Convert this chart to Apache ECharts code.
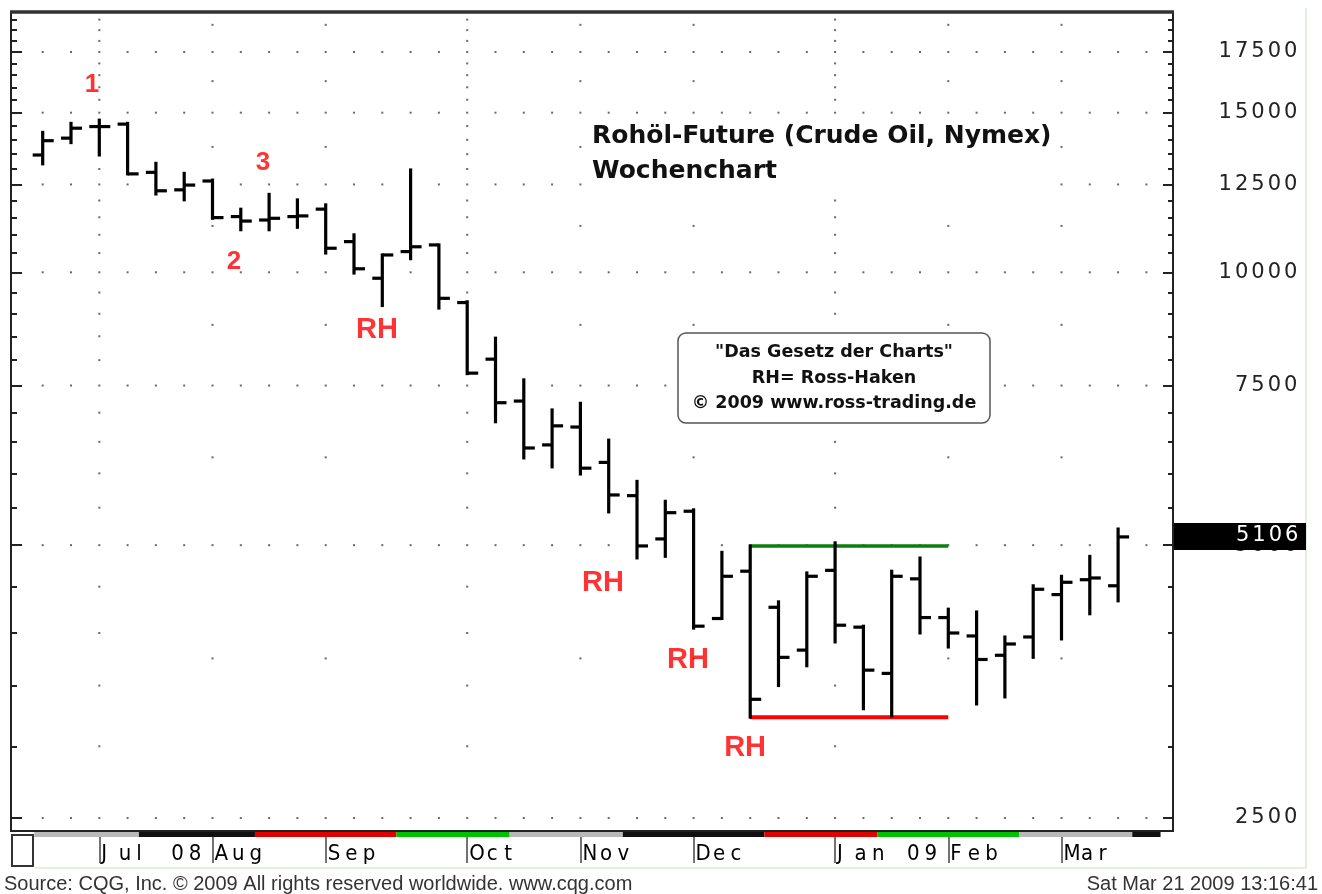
<!DOCTYPE html>
<html>
<head>
<meta charset="utf-8">
<script src="https://cdn.jsdelivr.net/npm/echarts@6/dist/echarts.min.js"></script>
<style>
html, body { margin: 0; padding: 0; background: #fff; }
#chart { width: 1322px; height: 894px; }
</style>
</head>
<body>
<div id="chart"></div>
<script>
// weekly bars Jun 2008 - Mar 2009 (price x 100)
const opens  = [13470, 14060, 14480, 14570, 12890, 12330, 12610, 11520, 11420, 11520, 11740, 10810, 9850, 10540, 10720, 9260, 8020, 7210, 6450, 6750, 6170, 5670, 5080, 5450, 4150, 4680, 4270, 3830, 4690, 4060, 3610, 4590, 4160, 3970, 3780, 3960, 4410, 4580, 4510]
const highs  = [14270, 14600, 14720, 14600, 13190, 12860, 12640, 11740, 12190, 12020, 11870, 11000, 10450, 12970, 10720, 9280, 8460, 7610, 7050, 7170, 6530, 5880, 5590, 5470, 4910, 4990, 4330, 4660, 5030, 4070, 4680, 4840, 4250, 4220, 3960, 4510, 4620, 4860, 5210]
const lows   = [13170, 13900, 13470, 12840, 12200, 12020, 11470, 11140, 11140, 11210, 10500, 9980, 9190, 10350, 9130, 7730, 6840, 6240, 6100, 5990, 5440, 4840, 4860, 4050, 4150, 3230, 3500, 3680, 3910, 3300, 3240, 4000, 3860, 3340, 3400, 3760, 3940, 4200, 4340]
const closes = [13970, 14420, 14480, 12840, 12300, 12480, 11490, 11390, 11470, 11540, 10630, 10090, 10450, 10670, 9360, 7740, 7180, 6400, 6770, 6080, 5680, 4990, 5430, 4070, 4620, 3380, 3760, 4620, 4080, 3640, 4620, 4160, 4000, 3740, 3890, 4470, 4550, 4600, 5106]
const lastPrice = 5106

// price scale
const majorLevels = [2500, 5000, 7500, 10000, 12500, 15000, 17500]
const minorLevels = [3000, 3500, 4000, 4500, 5500, 6000, 6500, 7000, 8000, 8500, 9000, 9500, 10500, 11000, 11500, 12000, 13000, 13500, 14000, 14500, 15500, 16000, 16500, 17000, 18000, 18500, 19000]
const midLevels = [3750, 6250, 8750, 11250, 13750, 16250, 18750]
const priceMin = 2419
const priceMax = 19371

// time scale (week index of first bar in month)
const monthWeeks = [2, 6, 10, 15, 19, 23, 28, 32, 36]
const monthNames = ['Jul 08', 'Aug', 'Sep', 'Oct', 'Nov', 'Dec', 'Jan 09', 'Feb', 'Mar']
const quarterWeeks = [2, 15, 28]
const weekMin = -1.12
const weekMax = 39.94
const lastWeek = 39

// contract strip under the chart
const stripFrom = [-0.3, 3.4, 7.5, 12.5, 16.5, 20.5, 25.5, 29.5, 34.5, 38.5]
const stripTo = [3.4, 7.5, 12.5, 16.5, 20.5, 25.5, 29.5, 34.5, 38.5, 39.5]
const stripColors = ['#b8b8b8', '#111111', '#e00000', '#00c000', '#b8b8b8', '#111111', '#e00000', '#00c000', '#b8b8b8', '#111111']

// trading range
const rangeFrom = 25
const rangeTo = 32
const rangeHigh = 4990
const rangeLow = 3230

// annotations [week, price, text]
const notes = [
  [1.74, 16100, '1'],
  [6.76, 10270, '2'],
  [7.78, 13200, '3'],
  [11.81, 8640, 'RH'],
  [19.8, 4540, 'RH'],
  [22.8, 3735, 'RH'],
  [24.82, 2990, 'RH']
]

const L = Math.log
const FONT = '"Liberation Sans", Arial, sans-serif'
const WIDE = '"DejaVu Sans", Verdana, sans-serif'
const NARROW = '"DejaVu Sans Condensed", "Liberation Sans Narrow", "Liberation Sans", sans-serif'

function cells (text, style) {
  return text.split('').map(ch => '{' + style + '|' + ch + '}').join('')
}

const gridDots = []
majorLevels.forEach(v => {
  for (let i = 0; i <= lastWeek; i++) gridDots.push([i, L(v)])
})
quarterWeeks.forEach(w => minorLevels.forEach(v => gridDots.push([w, L(v)])))
monthWeeks.filter(w => quarterWeeks.indexOf(w) < 0).forEach(w => midLevels.forEach(v => gridDots.push([w, L(v)])))

const barData = opens.map((o, i) => [i, L(o), L(highs[i]), L(lows[i]), L(closes[i])])

function renderBar (params, api) {
  const x = api.value(0)
  const o = api.coord([x, api.value(1)])
  const h = api.coord([x, api.value(2)])
  const l = api.coord([x, api.value(3)])
  const c = api.coord([x, api.value(4)])
  const style = { stroke: '#000', lineWidth: 3.2 }
  return {
    type: 'group',
    children: [
      { type: 'line', shape: { x1: h[0], y1: h[1] - 1.5, x2: l[0], y2: l[1] + 1.5 }, style },
      { type: 'line', shape: { x1: o[0] - 10, y1: o[1], x2: o[0], y2: o[1] }, style },
      { type: 'line', shape: { x1: c[0], y1: c[1], x2: c[0] + 11, y2: c[1] }, style }
    ]
  }
}

function renderStrip (params, api) {
  const a = api.coord([api.value(0), 1])
  const b = api.coord([api.value(1), 0])
  return {
    type: 'rect',
    shape: { x: a[0], y: a[1], width: b[0] - a[0], height: b[1] - a[1] },
    style: { fill: stripColors[params.dataIndex] }
  }
}

const yCommon = {
  type: 'value',
  gridIndex: 0,
  min: L(priceMin),
  max: L(priceMax),
  axisLine: { show: false, onZero: false },
  splitLine: { show: false }
}

const chart = echarts.init(document.getElementById('chart'))
chart.setOption({
  animation: false,
  backgroundColor: '#fff',
  title: {
    text: 'Rohöl-Future (Crude Oil, Nymex)\nWochenchart',
    left: 588,
    top: 116,
    padding: [3, 4],
    backgroundColor: '#fff',
    textStyle: { fontFamily: WIDE, fontSize: 25, fontWeight: 'bold', color: '#111', lineHeight: 35 }
  },
  grid: [
    { left: 11, right: 149, top: 12, bottom: 63, show: true, borderColor: '#222', borderWidth: 2, backgroundColor: '#fff' },
    { left: 11, right: 149, top: 832, height: 5 }
  ],
  xAxis: [
    { type: 'value', gridIndex: 0, min: weekMin, max: weekMax, show: false },
    {
      type: 'value',
      gridIndex: 1,
      min: weekMin,
      max: weekMax,
      axisLine: { show: false, onZero: false },
      splitLine: { show: false },
      axisTick: { customValues: monthWeeks, length: 26, lineStyle: { color: '#444', width: 1.5 } },
      axisLabel: {
        customValues: monthWeeks,
        hideOverlap: false,
        align: 'left',
        margin: 6,
        padding: [0, 0, 0, 2],
        formatter: v => cells(monthNames[monthWeeks.indexOf(v)], 'm'),
        rich: { m: { width: 17.5, align: 'left', fontSize: 22, fontFamily: NARROW, color: '#000' } }
      }
    }
  ],
  yAxis: [
    Object.assign({}, yCommon, {
      position: 'right',
      axisTick: { inside: true, length: 10, customValues: majorLevels.map(L), lineStyle: { color: '#222', width: 2 } },
      axisLabel: {
        customValues: majorLevels.map(L),
        margin: 126,
        align: 'right',
        formatter: v => cells(String(Math.round(Math.exp(v))), 'd'),
        rich: { d: { width: 16.4, align: 'center', fontSize: 21, fontFamily: WIDE, color: '#222' } }
      }
    }),
    Object.assign({}, yCommon, {
      position: 'right',
      axisTick: { inside: true, length: 5, customValues: minorLevels.map(L), lineStyle: { color: '#222', width: 2 } },
      axisLabel: { show: false }
    }),
    Object.assign({}, yCommon, {
      position: 'left',
      axisTick: { inside: true, length: 11, customValues: majorLevels.map(L), lineStyle: { color: '#222', width: 2 } },
      axisLabel: { show: false }
    }),
    Object.assign({}, yCommon, {
      position: 'left',
      axisTick: { inside: true, length: 6, customValues: minorLevels.map(L), lineStyle: { color: '#222', width: 2 } },
      axisLabel: { show: false }
    }),
    { type: 'value', gridIndex: 1, min: 0, max: 1, show: false }
  ],
  series: [
    {
      name: 'grid dots',
      type: 'scatter',
      xAxisIndex: 0,
      yAxisIndex: 0,
      symbol: 'rect',
      symbolSize: 2,
      itemStyle: { color: '#444' },
      silent: true,
      z: 1,
      data: gridDots
    },
    {
      name: 'range high',
      type: 'line',
      xAxisIndex: 0,
      yAxisIndex: 0,
      symbol: 'none',
      lineStyle: { color: '#0a800a', width: 3.5 },
      z: 3,
      data: [[rangeFrom, L(rangeHigh)], [rangeTo, L(rangeHigh)]]
    },
    {
      name: 'range low',
      type: 'line',
      xAxisIndex: 0,
      yAxisIndex: 0,
      symbol: 'none',
      lineStyle: { color: '#ff0000', width: 4 },
      z: 3,
      data: [[rangeFrom, L(rangeLow)], [rangeTo, L(rangeLow)]]
    },
    {
      name: 'crude oil',
      type: 'custom',
      xAxisIndex: 0,
      yAxisIndex: 0,
      renderItem: renderBar,
      encode: { x: 0, y: [1, 2, 3, 4] },
      z: 4,
      data: barData
    },
    {
      name: 'notes',
      type: 'scatter',
      xAxisIndex: 0,
      yAxisIndex: 0,
      symbolSize: 0,
      z: 5,
      label: {
        show: true,
        position: 'inside',
        formatter: p => p.data.text,
        color: '#ff0000',
        fontFamily: FONT,
        fontWeight: 'bold'
      },
      data: notes.map(n => ({
        value: [n[0], L(n[1])],
        text: n[2],
        label: { fontSize: n[2] === 'RH' ? 29 : 26 }
      }))
    },
    {
      name: 'strip',
      type: 'custom',
      xAxisIndex: 1,
      yAxisIndex: 4,
      renderItem: renderStrip,
      encode: { x: [0, 1] },
      data: stripFrom.map((s, i) => [s, stripTo[i]])
    }
  ]
})

const tagY = chart.convertToPixel({ yAxisIndex: 0 }, L(lastPrice))
chart.setOption({
  graphic: [
    { type: 'line', z: 100, shape: { x1: 1306, y1: 8, x2: 1306, y2: 868 }, style: { stroke: '#d6ead6', lineWidth: 1.5 } },
    { type: 'line', z: 100, shape: { x1: 35, y1: 868, x2: 1306, y2: 868 }, style: { stroke: '#d6ead6', lineWidth: 1.5 } },
    { type: 'line', z: 100, shape: { x1: 10, y1: 12, x2: 1174, y2: 12 }, style: { stroke: '#333', lineWidth: 3.5 } },
    { type: 'rect', z: 100, shape: { x: 12, y: 835, width: 21, height: 31 }, style: { fill: '#fff', stroke: '#333', lineWidth: 2 } },
    { type: 'rect', z: 100, shape: { x: 678, y: 333, width: 312, height: 90, r: 8 }, style: { fill: '#fff', stroke: '#555', lineWidth: 1.5 } },
    {
      type: 'text', z: 101, x: 834, y: 378,
      style: {
        text: '"Das Gesetz der Charts"\nRH= Ross-Haken\n© 2009 www.ross-trading.de',
        align: 'center', verticalAlign: 'middle', lineHeight: 25.5,
        fontFamily: WIDE, fontSize: 17.5, fontWeight: 'bold', fill: '#111'
      }
    },
    { type: 'rect', z: 100, shape: { x: 1174, y: tagY - 14, width: 132, height: 27 }, style: { fill: '#000' } },
    {
      type: 'text', z: 101, x: 1300, y: tagY - 1,
      style: {
        text: cells(String(lastPrice), 'd'),
        align: 'right', verticalAlign: 'middle',
        rich: { d: { width: 16.4, align: 'center', fontSize: 21, fontFamily: WIDE, fill: '#fff' } }
      }
    },
    {
      type: 'text', z: 100, x: 4, y: 884,
      style: { text: 'Source: CQG, Inc. © 2009 All rights reserved worldwide. www.cqg.com', verticalAlign: 'middle', fontFamily: FONT, fontSize: 20, fill: '#333' }
    },
    {
      type: 'text', z: 100, x: 1318, y: 884,
      style: { text: 'Sat Mar 21 2009 13:16:41', align: 'right', verticalAlign: 'middle', fontFamily: FONT, fontSize: 20, fill: '#333' }
    }
  ]
})
</script>
</body>
</html>
